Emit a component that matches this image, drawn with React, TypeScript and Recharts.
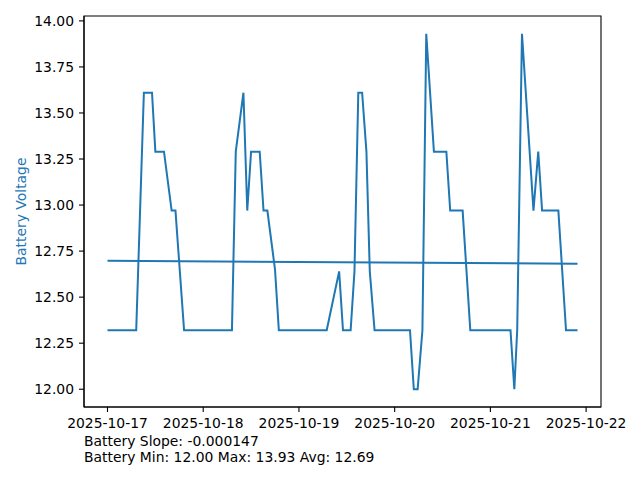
import React from "react";
import { LineChart, Line, XAxis, YAxis, ReferenceArea } from "recharts";

// Time in fractional day-of-month (October 2025)
const times = [
  17.0, 17.3, 17.38, 17.465, 17.5, 17.59, 17.67, 17.71, 17.8,
  18.3, 18.34, 18.42, 18.46, 18.5, 18.59, 18.63, 18.67, 18.75, 18.79,
  19.29, 19.42, 19.46, 19.54, 19.58, 19.62, 19.66, 19.705, 19.74, 19.79,
  20.16, 20.2, 20.24, 20.29, 20.33, 20.41, 20.54, 20.58, 20.71, 20.79,
  21.21, 21.25, 21.28, 21.33, 21.45, 21.5, 21.54, 21.71, 21.79, 21.91,
];
const volts = [
  12.32, 12.32, 13.61, 13.61, 13.29, 13.29, 12.97, 12.97, 12.32,
  12.32, 13.29, 13.61, 12.97, 13.29, 13.29, 12.97, 12.97, 12.65, 12.32,
  12.32, 12.64, 12.32, 12.32, 12.64, 13.61, 13.61, 13.29, 12.64, 12.32,
  12.32, 12.0, 12.0, 12.32, 13.93, 13.29, 13.29, 12.97, 12.97, 12.32,
  12.32, 12.0, 12.32, 13.93, 12.97, 13.29, 12.97, 12.97, 12.32, 12.32,
];
const trendTimes = [17.0, 21.91];
const trendVolts = [12.698, 12.681];

const xTicks = [17, 18, 19, 20, 21, 22];
const yTicks = [12.0, 12.25, 12.5, 12.75, 13.0, 13.25, 13.5, 13.75, 14.0];

const statLines = [
  "Battery Slope: -0.000147",
  "Battery Min: 12.00 Max: 13.93 Avg: 12.69",
];
const yLabel = "Battery Voltage";

const series = times.map((t, i) => ({ t, v: volts[i] }));
const trend = trendTimes.map((t, i) => ({ t, v: trendVolts[i] }));

const FONT = "DejaVu Sans";
const FS = 13.9;
const BLUE = "#1f77b4";
const xDomain: [number, number] = [16.7545, 22.1555];
const yDomain: [number, number] = [11.9035, 14.0265];

export default function App() {
  return (
    <div style={{ position: "absolute", left: 0, top: 0, width: 640, height: 480, background: "#fff" }}>
      <LineChart
        width={640}
        height={480}
        margin={{ top: 16, right: 39, bottom: 0, left: 0 }}
        style={{ fontFamily: FONT }}
      >
        <XAxis
          dataKey="t"
          type="number"
          domain={xDomain}
          allowDataOverflow
          ticks={xTicks}
          tickFormatter={(v: number) => `2025-10-${v}`}
          height={73}
          tickSize={5}
          tickMargin={6}
          axisLine={{ stroke: "#000", strokeWidth: 1.1 }}
          tickLine={{ stroke: "#000", strokeWidth: 1.1 }}
          tick={{ fill: "#000", fontSize: FS, fontFamily: FONT }}
        />
        <YAxis
          type="number"
          domain={yDomain}
          allowDataOverflow
          ticks={yTicks}
          tickFormatter={(v: number) => v.toFixed(2)}
          width={84}
          tickSize={5}
          tickMargin={5}
          axisLine={{ stroke: "#000", strokeWidth: 1.1 }}
          tickLine={{ stroke: "#000", strokeWidth: 1.1 }}
          tick={{ fill: "#000", fontSize: FS, fontFamily: FONT }}
        />
        <ReferenceArea
          x1={xDomain[0]}
          x2={xDomain[1]}
          y1={yDomain[0]}
          y2={yDomain[1]}
          fill="none"
          fillOpacity={0}
          stroke="#000"
          strokeWidth={1.1}
          ifOverflow="visible"
        />
        <Line
          data={series}
          dataKey="v"
          type="linear"
          stroke={BLUE}
          strokeWidth={2}
          dot={false}
          isAnimationActive={false}
        />
        <Line
          data={trend}
          dataKey="v"
          type="linear"
          stroke={BLUE}
          strokeWidth={2}
          dot={false}
          isAnimationActive={false}
        />
      </LineChart>
      <svg
        width={640}
        height={480}
        style={{ position: "absolute", left: 0, top: 0, pointerEvents: "none" }}
      >
        <text
          transform="translate(21,211.5) rotate(-90)"
          textAnchor="middle"
          dominantBaseline="central"
          fill={BLUE}
          fontFamily={FONT}
          fontSize={FS}
        >
          {yLabel}
        </text>
        {statLines.map((s, i) => (
          <text key={i} x={84} y={446 + i * 15.7} fill="#000" fontFamily={FONT} fontSize={FS}>
            {s}
          </text>
        ))}
      </svg>
    </div>
  );
}
